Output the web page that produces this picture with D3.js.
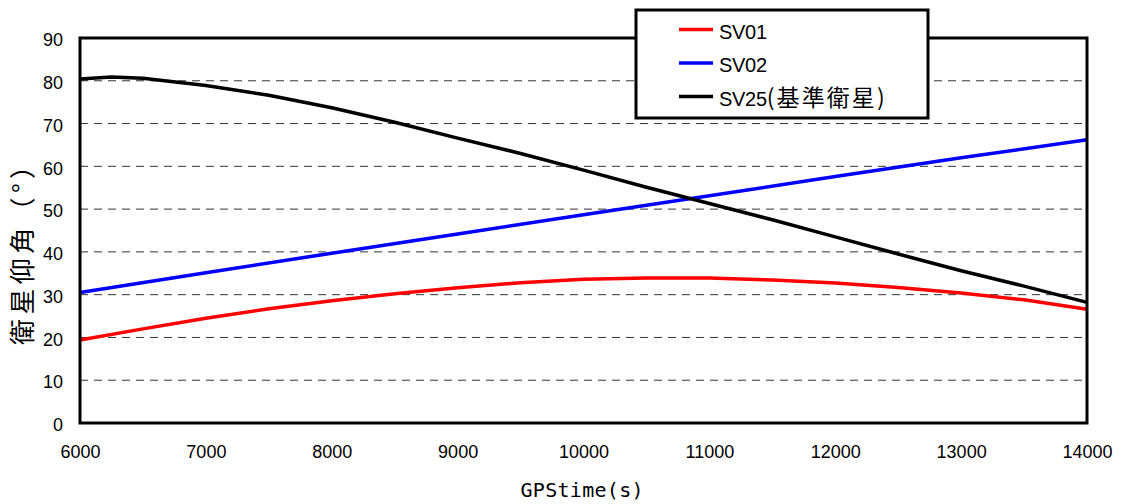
<!DOCTYPE html>
<html>
<head>
<meta charset="utf-8">
<script src="https://cdn.jsdelivr.net/npm/d3@7"></script>
<style>
  body { margin: 0; background: #fff; }
  text { font-family: "Liberation Sans", Arial, sans-serif; }
</style>
</head>
<body>
<div id="chart"></div>
<script>
// data (GPS time in s, elevation in degrees)
var sv01Time = [6000, 6500, 7000, 7500, 8000, 8500, 9000, 9500, 10000, 10500, 11000, 11500, 12000, 12500, 13000, 13500, 14000];
var sv01Elev = [19.4, 22.0, 24.5, 26.7, 28.6, 30.2, 31.6, 32.8, 33.6, 33.9, 33.9, 33.4, 32.7, 31.7, 30.4, 28.8, 26.6];

var sv02Time = [6000, 7000, 8000, 9000, 10000, 11000, 12000, 13000, 14000];
var sv02Elev = [30.5, 35.1, 39.7, 44.2, 48.7, 53.1, 57.6, 62.0, 66.2];

var sv25Time = [6000, 6250, 6500, 7000, 7500, 8000, 8500, 9000, 9500, 10000, 10500, 11000, 11500, 12000, 12500, 13000, 13500, 14000];
var sv25Elev = [80.4, 80.9, 80.6, 78.9, 76.6, 73.7, 70.3, 66.6, 63.0, 59.1, 55.1, 51.3, 47.5, 43.5, 39.5, 35.6, 32.0, 28.2];

var seriesNames = ['SV01', 'SV02', 'SV25'];
var seriesNotes = ['', '', '(基準衛星)'];
var seriesColors = ['#ff0000', '#0000ff', '#000000'];

var xTicks = [6000, 7000, 8000, 9000, 10000, 11000, 12000, 13000, 14000];
var yTicks = [0, 10, 20, 30, 40, 50, 60, 70, 80, 90];

var W = 1122, H = 504;
var plot = {left: 80, right: 1087, top: 38, bottom: 423};

var svg = d3.select('#chart').append('svg')
  .attr('width', W).attr('height', H);

var x = d3.scaleLinear().domain([6000, 14000]).range([plot.left, plot.right]);
var y = d3.scaleLinear().domain([0, 90]).range([plot.bottom, plot.top]);

// dashed gridlines
svg.append('g').selectAll('line')
  .data(yTicks.filter(function(d){ return d > 0 && d < 90; }))
  .enter().append('line')
  .attr('x1', plot.left).attr('x2', plot.right)
  .attr('y1', function(d){ return y(d); })
  .attr('y2', function(d){ return y(d); })
  .attr('stroke', '#333').attr('stroke-width', 1)
  .attr('stroke-dasharray', '8,6');

// y tick labels
var yAxis = d3.axisLeft(y).tickValues(yTicks).tickSize(0).tickPadding(17);
var gy = svg.append('g').attr('transform', 'translate(' + plot.left + ',2)').call(yAxis);
gy.select('.domain').remove();
gy.selectAll('text').attr('font-size', 18).attr('fill', '#000')
  .attr('font-family', '"Liberation Sans", Arial, sans-serif');

// x tick labels
var xAxis = d3.axisBottom(x).tickValues(xTicks).tickSize(0).tickPadding(22).tickFormat(d3.format('d'));
var gx = svg.append('g').attr('transform', 'translate(0,' + plot.bottom + ')').call(xAxis);
gx.select('.domain').remove();
gx.selectAll('text').attr('font-size', 18).attr('fill', '#000')
  .attr('font-family', '"Liberation Sans", Arial, sans-serif');

// series lines
var line = d3.line()
  .x(function(d){ return x(d[0]); })
  .y(function(d){ return y(d[1]); });

var series = [
  d3.zip(sv01Time, sv01Elev),
  d3.zip(sv02Time, sv02Elev),
  d3.zip(sv25Time, sv25Elev)
];

svg.append('g').selectAll('path')
  .data(series)
  .enter().append('path')
  .attr('d', line)
  .attr('fill', 'none')
  .attr('stroke', function(d, i){ return seriesColors[i]; })
  .attr('stroke-width', 3.5)
  .attr('stroke-linejoin', 'round');

// plot frame
svg.append('rect')
  .attr('x', plot.left).attr('y', plot.top)
  .attr('width', plot.right - plot.left).attr('height', plot.bottom - plot.top)
  .attr('fill', 'none').attr('stroke', '#000').attr('stroke-width', 3);

// axis titles
svg.append('text')
  .attr('x', 582).attr('y', 497)
  .attr('text-anchor', 'middle')
  .attr('font-size', 20)
  .style('font-family', '"DejaVu Sans Mono", monospace')
  .attr('textLength', 123)
  .text('GPStime(s)');

svg.append('text')
  .attr('transform', 'translate(32,249) rotate(-90)')
  .attr('text-anchor', 'middle')
  .attr('font-size', 26)
  .attr('textLength', 192)
  .style('font-family', '"Noto Sans CJK JP", "Noto Sans CJK TC", sans-serif')
  .text('衛星仰角（°）');

// legend
var lg = svg.append('g');
lg.append('rect')
  .attr('x', 636).attr('y', 10).attr('width', 292).attr('height', 108)
  .attr('fill', '#fff').attr('stroke', '#000').attr('stroke-width', 3);

var items = lg.selectAll('g.item')
  .data(seriesNames)
  .enter().append('g')
  .attr('transform', function(d, i){ return 'translate(0,' + (29.5 + i * 33.5) + ')'; });

items.append('line')
  .attr('x1', 679).attr('x2', 713).attr('y1', 0).attr('y2', 0)
  .attr('stroke', function(d, i){ return seriesColors[i]; })
  .attr('stroke-width', 3.5);

var lt = items.append('text')
  .attr('x', 719).attr('y', 9)
  .attr('font-size', 20);
lt.append('tspan')
  .attr('textLength', 48)
  .text(function(d){ return d; });
lt.filter(function(d, i){ return seriesNotes[i] !== ''; })
  .append('tspan')
  .attr('font-size', 23)
  .attr('textLength', 118)
  .style('font-family', '"Noto Sans CJK JP", "Noto Sans CJK TC", sans-serif')
  .text(function(d, i){ return seriesNotes[2]; });
</script>
</body>
</html>
